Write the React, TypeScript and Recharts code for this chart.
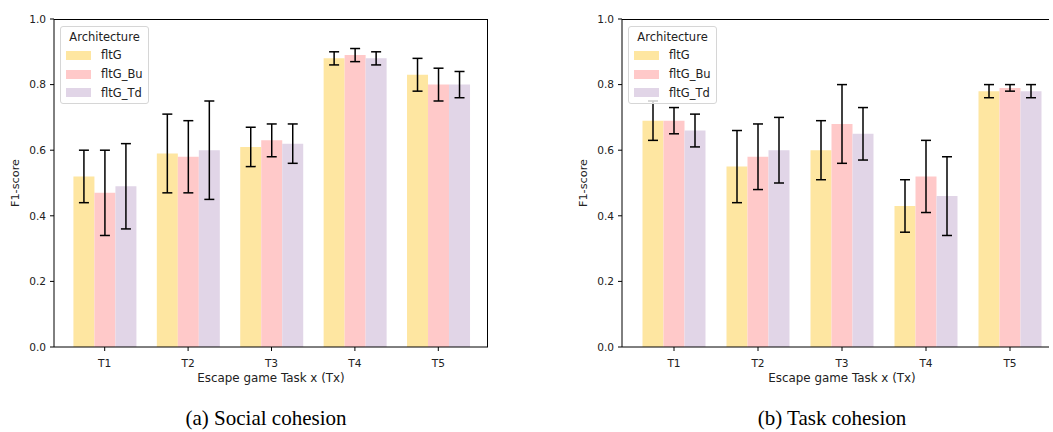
import { Bar, BarChart, ErrorBar, XAxis, YAxis } from "recharts";

const categories = ["T1", "T2", "T3", "T4", "T5"];
const seriesNames = ["fltG", "fltG_Bu", "fltG_Td"];
const seriesColors = ["#fee6a1", "#ffc9c9", "#e1d5e7"];
const yTicks = [0, 0.2, 0.4, 0.6, 0.8, 1.0];

// (a) Social cohesion
const socialFltG = [0.52, 0.59, 0.61, 0.88, 0.83];
const socialFltGErr = [0.08, 0.12, 0.06, 0.02, 0.05];
const socialBu = [0.47, 0.58, 0.63, 0.89, 0.8];
const socialBuErr = [0.13, 0.11, 0.05, 0.02, 0.05];
const socialTd = [0.49, 0.6, 0.62, 0.88, 0.8];
const socialTdErr = [0.13, 0.15, 0.06, 0.02, 0.04];

// (b) Task cohesion
const taskFltG = [0.69, 0.55, 0.6, 0.43, 0.78];
const taskFltGErr = [0.06, 0.11, 0.09, 0.08, 0.02];
const taskBu = [0.69, 0.58, 0.68, 0.52, 0.79];
const taskBuErr = [0.04, 0.1, 0.12, 0.11, 0.01];
const taskTd = [0.66, 0.6, 0.65, 0.46, 0.78];
const taskTdErr = [0.05, 0.1, 0.08, 0.12, 0.02];

const font = "'DejaVu Sans', sans-serif";
const textColor = "#222";

function buildRows(vals: number[][], errs: number[][]) {
  return categories.map((cat, i) => ({
    cat,
    s0: vals[0][i],
    s1: vals[1][i],
    s2: vals[2][i],
    e0: errs[0][i],
    e1: errs[1][i],
    e2: errs[2][i],
  }));
}

function LegendBox({ left, top }: { left: number; top: number }) {
  return (
    <div
      style={{
        position: "absolute",
        left,
        top,
        width: 89,
        height: 78,
        border: "1px solid #d6d6d6",
        borderRadius: 3,
        background: "rgba(255,255,255,0.8)",
        fontFamily: font,
        fontSize: 11.5,
        color: textColor,
        boxSizing: "border-box",
      }}
    >
      <div style={{ textAlign: "center", marginTop: 1, height: 18, lineHeight: "18px" }}>Architecture</div>
      {seriesNames.map((name, i) => (
        <div key={name} style={{ display: "flex", alignItems: "center", height: 18.7 }}>
          <span style={{ display: "inline-block", width: 25, height: 9, marginLeft: 5, background: seriesColors[i] }} />
          <span style={{ marginLeft: 10 }}>{name}</span>
        </div>
      ))}
    </div>
  );
}

function yLabel(props: any) {
  const vb = props.viewBox || { x: 0, y: 19, height: 328 };
  const cx = 15;
  const cy = vb.y + vb.height / 2;
  return (
    <text
      x={cx}
      y={cy}
      transform={`rotate(-90 ${cx} ${cy})`}
      textAnchor="middle"
      dominantBaseline="central"
      fontFamily={font}
      fontSize={11.3}
      fill={textColor}
    >
      F1-score
    </text>
  );
}

function xLabel(props: any) {
  const vb = props.viewBox || { x: 54, y: 347, width: 434 };
  return (
    <text
      x={vb.x + vb.width / 2}
      y={378}
      textAnchor="middle"
      dominantBaseline="central"
      fontFamily={font}
      fontSize={11.9}
      fill={textColor}
    >
      Escape game Task x (Tx)
    </text>
  );
}

function Panel({
  left,
  clipWidth,
  plotWidth,
  pad,
  rows,
  caption,
  captionX,
  rightSpine,
}: {
  left: number;
  clipWidth: number;
  plotWidth: number;
  pad: { left: number; right: number };
  rows: any[];
  caption: string;
  captionX: number;
  rightSpine: boolean;
}) {
  const tick = { fill: textColor, fontSize: 10.6, fontFamily: font };
  return (
    <>
      <div style={{ position: "absolute", left, top: 0, width: clipWidth, height: 400, overflow: "hidden" }}>
        <BarChart
          width={54 + plotWidth}
          height={432}
          data={rows}
          margin={{ top: 19, right: 0, left: 0, bottom: 49 }}
          barCategoryGap="12.5%"
          barGap={0}
        >
          <XAxis
            dataKey="cat"
            height={36}
            padding={pad}
            axisLine={{ stroke: "#000", strokeWidth: 1 }}
            tickLine={{ stroke: "#000" }}
            tickSize={4}
            tickMargin={8}
            tick={tick}
            label={xLabel}
          />
          <YAxis
            domain={[0, 1]}
            ticks={yTicks}
            width={54}
            axisLine={{ stroke: "#000", strokeWidth: 1 }}
            tickLine={{ stroke: "#000" }}
            tickSize={4}
            tickMargin={4}
            tick={tick}
            tickFormatter={(v: number) => v.toFixed(1)}
            label={yLabel}
          />
          {seriesNames.map((name, i) => (
            <Bar key={name} name={name} dataKey={`s${i}`} fill={seriesColors[i]} isAnimationActive={false}>
              <ErrorBar dataKey={`e${i}`} width={5} stroke="#000" strokeWidth={1.5} direction="y" isAnimationActive={false} />
            </Bar>
          ))}
        </BarChart>
        {/* top and right spines */}
        <div
          style={{
            position: "absolute",
            left: 54,
            top: 19,
            width: plotWidth,
            height: 328,
            borderTop: "1px solid #000",
            borderRight: rightSpine ? "1px solid #000" : "none",
            boxSizing: "border-box",
            pointerEvents: "none",
          }}
        />
        <LegendBox left={60} top={26} />
      </div>
      <div
        style={{
          position: "absolute",
          left: captionX - 150,
          width: 300,
          top: 406,
          textAlign: "center",
          fontFamily: "'Liberation Serif', serif",
          fontSize: 21,
          lineHeight: "24px",
          color: "#000",
        }}
      >
        {caption}
      </div>
    </>
  );
}

export default function App() {
  const socialRows = buildRows([socialFltG, socialBu, socialTd], [socialFltGErr, socialBuErr, socialTdErr]);
  const taskRows = buildRows([taskFltG, taskBu, taskTd], [taskFltGErr, taskBuErr, taskTdErr]);
  return (
    <div
      style={{
        position: "fixed",
        left: 0,
        top: 0,
        width: 1053,
        height: 432,
        overflow: "hidden",
        background: "#fff",
      }}
    >
      <Panel left={0} clipWidth={530} plotWidth={434} pad={{ left: 9, right: 8 }} rows={socialRows} caption="(a) Social cohesion" captionX={266} rightSpine />
      <Panel left={568} clipWidth={481} plotWidth={440} pad={{ left: 10, right: 10 }} rows={taskRows} caption="(b) Task cohesion" captionX={832} rightSpine={false} />
    </div>
  );
}
